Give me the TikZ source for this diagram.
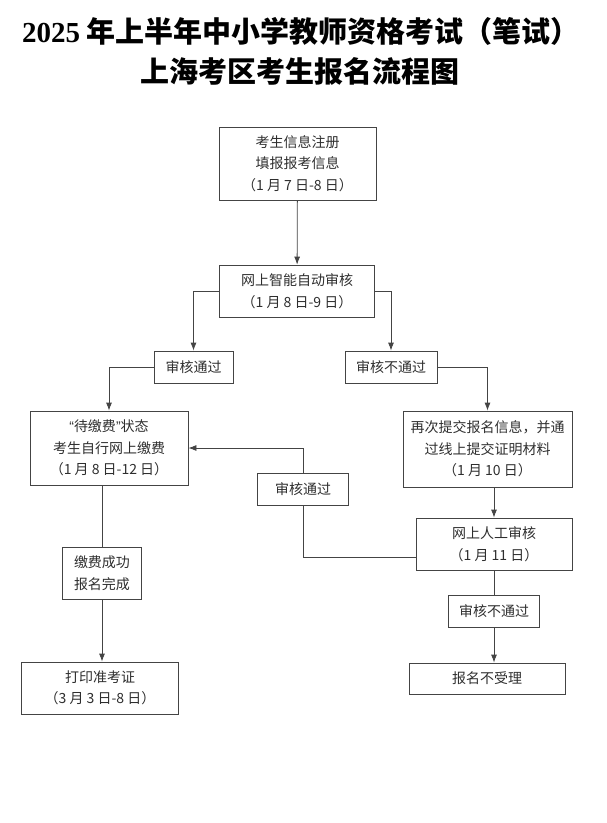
\documentclass[tikz,border=0pt]{standalone}
\usepackage{fontspec}
\setmainfont{Noto Sans CJK SC}
\newfontfamily\numfont{Liberation Serif}
\newfontfamily\quotefont{Liberation Sans}
\usetikzlibrary{arrows.meta}
\definecolor{linec}{HTML}{444444}
\definecolor{textc}{HTML}{2E2E2E}
\begin{document}
\begin{tikzpicture}[x=1pt,y=-1pt,
  box/.style={draw=linec,line width=0.8pt,inner sep=0pt,align=center,text=textc,font=\fontsize{14}{21.5}\selectfont},
  link/.style={draw=linec,line width=0.8pt},
  arr/.style={link,-{Latex[length=8pt,width=6pt]}},
  heading/.style={text=black,font=\fontsize{29}{29}\selectfont\bfseries}]
\useasboundingbox (0,0) rectangle (606,823);
\node[heading] (title1) at (301,31) {{\numfont 2025} 年上半年中小学教师资格考试（笔试）};
\node[heading] (title2) at (300,71) {上海考区考生报名流程图};
\node[box,minimum width=157pt,minimum height=73pt] (reg) at (297.5,163.5) {考生信息注册\\填报报考信息\\（1 月 7 日-8 日）};
\node[box,minimum width=155pt,minimum height=52pt] (auto) at (297,291) {网上智能自动审核\\（1 月 8 日-9 日）};
\node[box,minimum width=79pt,minimum height=32pt] (passA) at (193.5,367) {审核通过};
\node[box,minimum width=92pt,minimum height=32pt] (failA) at (391,367) {审核不通过};
\node[box,minimum width=158pt,minimum height=74pt] (pay) at (109,448) {{\quotefont “}待缴费{\quotefont ”}状态\\考生自行网上缴费\\（1 月 8 日-12 日）};
\node[box,minimum width=169pt,minimum height=76pt] (resub) at (487.5,449) {再次提交报名信息，并通\\过线上提交证明材料\\（1 月 10 日）};
\node[box,minimum width=91pt,minimum height=32pt] (passB) at (303,489) {审核通过};
\node[box,minimum width=156pt,minimum height=52pt] (manual) at (494,544) {网上人工审核\\（1 月 11 日）};
\node[box,minimum width=79pt,minimum height=52pt] (done) at (102,573) {缴费成功\\报名完成};
\node[box,minimum width=91pt,minimum height=32pt] (failB) at (494,611) {审核不通过};
\node[box,minimum width=157pt,minimum height=52pt] (print) at (100,688) {打印准考证\\（3 月 3 日-8 日）};
\node[box,minimum width=156pt,minimum height=31pt] (reject) at (487,678.5) {报名不受理};
\draw[arr] (reg) -- (auto);
\draw[arr] (auto.west) -| (passA.north);
\draw[arr] (auto.east) -| (failA.north);
\draw[arr] (passA.west) -| (pay.north);
\draw[arr] (failA.east) -| (resub.north);
\draw[arr] (resub.south -| manual.north) -- (manual.north);
\draw[link] ([yshift=-13pt]manual.west) -| (passB.south);
\draw[arr] (passB.north) |- (pay.east);
\draw[link] (pay.south -| done.north) -- (done.north);
\draw[arr] (done.south) -- (done.south |- print.north);
\draw[link] (manual.south) -- (failB.north);
\draw[arr] (failB.south) -- (failB.south |- reject.north);
\end{tikzpicture}
\end{document}
